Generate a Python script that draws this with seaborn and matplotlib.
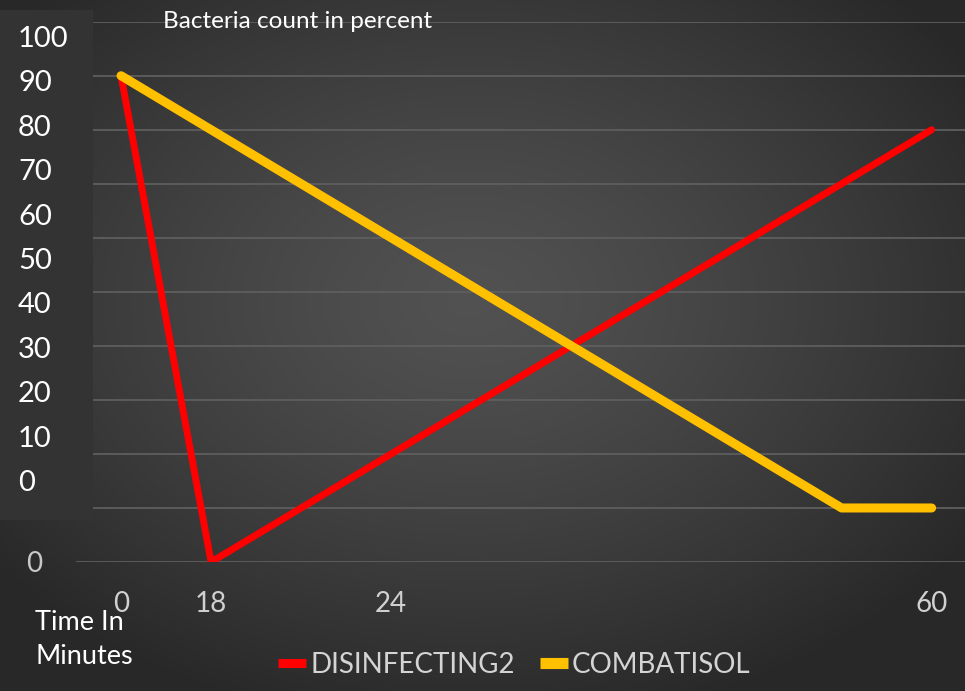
import numpy as np
import pandas as pd
import matplotlib
matplotlib.use("Agg")
import matplotlib.pyplot as plt
import seaborn as sns
from matplotlib.patches import Rectangle

# Sampling steps along the x axis and their labels
steps = list(range(10))
step_labels = ["0", "18", "", "24", "", "", "", "", "", "60"]

# Bacteria count (percent) for each product
disinfecting2 = [90, 0, 10, 20, 30, 40, 50, 60, 70, 80]
combatisol = [90, 80, 70, 60, 50, 40, 30, 20, 10, 10]

series_names = ["DISINFECTING2", "COMBATISOL"]
series_colors = ["#ff0000", "#ffc000"]

# Percent scale written down the left side
side_labels = [100, 90, 80, 70, 60, 50, 40, 30, 20, 10, 0]

W, H = 965, 691

sns.set_theme(style="dark")
plt.rcParams["font.family"] = ["Lato", "DejaVu Sans"]

df = pd.DataFrame({
    "step": steps * 2,
    "value": disinfecting2 + combatisol,
    "series": [series_names[0]] * len(steps) + [series_names[1]] * len(steps),
})

fig = plt.figure(figsize=(W / 100, H / 100), dpi=100)

# Dark radial gradient backdrop
bg = fig.add_axes([0, 0, 1, 1], zorder=-10)
yy, xx = np.mgrid[0:H, 0:W]
d = np.sqrt(((xx - 470) / (W * 0.62)) ** 2 + ((yy - 300) / (H * 0.62)) ** 2)
d = np.clip(d, 0, 1)
shade = 0.32 - (0.32 - 0.16) * d ** 1.3
bg.imshow(np.dstack([shade, shade, shade]), extent=[0, W, H, 0], aspect="auto")
bg.axis("off")

# Plot area
px_per_unit = 90.07
left = 76
ax = fig.add_axes([left / W, (H - 562) / H, (W - left) / W, (562 - 21.7) / H], zorder=0)
ax.set_facecolor("none")

sns.lineplot(data=df, x="step", y="value", hue="series", hue_order=series_names,
             palette=dict(zip(series_names, series_colors)), ax=ax, legend=True)
widths = {series_names[0]: 5.0, series_names[1]: 6.5}
handles, labels = ax.get_legend_handles_labels()
ax.get_legend().remove()
for line, name in zip(ax.lines[:2], series_names):
    line.set_linewidth(widths[name])
    line.set_solid_capstyle("round")
    line.set_solid_joinstyle("round")
for h, name in zip(handles, labels):
    h.set_linewidth(widths[name] + 1.5)
    h.set_solid_capstyle("butt")

ax.set_xlim(-0.5, -0.5 + (W - left) / px_per_unit)
ax.set_ylim(0, 100)
ax.set_xticks(steps)
ax.set_xticklabels(step_labels)
ax.set_yticks(range(0, 101, 10))
ax.set_yticklabels(["0"] + [""] * 10)
ax.set_xlabel("")
ax.set_ylabel("")
for s in ax.spines.values():
    s.set_visible(False)
ax.grid(axis="y", color="#5e5e5e", linewidth=1.3)
ax.grid(axis="x", visible=False)
ax.tick_params(axis="x", length=0, pad=21, labelsize=20, labelcolor="#d0d0d0")
ax.tick_params(axis="y", length=0, pad=24, labelsize=20, labelcolor="#c8c8c8")
ax.set_axisbelow(True)

# Panel with the percent scale on the left
fig.patches.append(Rectangle((0, (H - 520) / H), 93 / W, 510 / H,
                             transform=fig.transFigure, facecolor="#333333",
                             edgecolor="none", zorder=5))
for i, v in enumerate(side_labels):
    fig.text(18 / W, 1 - (39 + i * 44.4) / H, str(v), color="white",
             fontsize=21, ha="left", va="center", zorder=6)

fig.text(163 / W, 1 - 22 / H, "Bacteria count in percent", color="white",
         fontsize=17.5, ha="left", va="center", zorder=6)
fig.text(35 / W, 1 - 622 / H, "Time In", color="white",
         fontsize=19.5, ha="left", va="center", zorder=6)
fig.text(35 / W, 1 - 657 / H, "Minutes", color="white",
         fontsize=19.5, ha="left", va="center", zorder=6)

fig.legend(handles, labels, loc="center", bbox_to_anchor=(0.533, 1 - 665 / H),
           ncol=2, frameon=False, fontsize=20, labelcolor="#d4d4d4",
           handlelength=1.0, handletextpad=0.15, columnspacing=0.9)

fig.savefig("out.png", dpi=100)
